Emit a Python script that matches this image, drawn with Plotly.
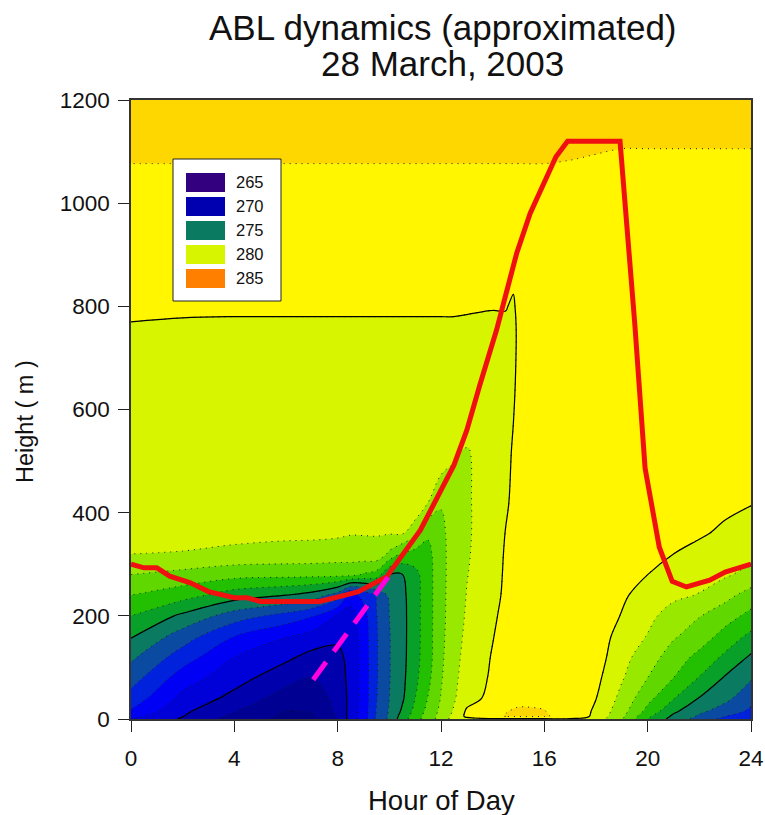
import plotly.graph_objects as go

# ---- data ----
hours = [0, 2, 4, 6, 7, 8, 8.5, 9, 9.5, 10, 10.5, 11, 11.5, 12, 12.5, 13, 14, 14.5, 14.8, 15, 16, 17, 18, 19, 20, 21, 22, 23, 24]
heights = [0, 5, 15, 40, 80, 120, 160, 200, 240, 280, 320, 360, 420, 520, 650, 760, 800, 830, 1050, 1090, 1110, 1200]

# potential temperature profile at each hour (one inner list per entry of `hours`)
temperature_by_hour = [
    [270.9, 271.3, 271.9, 272.6, 273.45, 274.2, 275.07, 276, 277, 278, 279, 279.09, 279.2, 279.44, 279.73, 279.98, 280.06, 280.12, 280.9, 281.05, 281.15, 281.6],
    [269.9, 270.02, 270.2, 270.7, 271.5, 272.5, 273.5, 274.8, 276.4, 277.7, 278.95, 279.3, 279.35, 279.5, 279.73, 279.96, 280.05, 280.15, 280.9, 281.05, 281.15, 281.6],
    [268.55, 268.7, 269.05, 269.7, 270.4, 271, 272, 273.5, 275.5, 277.35, 278.75, 279.3, 279.35, 279.5, 279.75, 279.95, 280.05, 280.15, 280.9, 281.05, 281.15, 281.6],
    [267.7, 267.8, 267.95, 268.5, 269.4, 270.2, 271.05, 272.65, 275, 277.3, 278.65, 279.2, 279.28, 279.5, 279.75, 279.95, 280.05, 280.15, 280.9, 281.05, 281.15, 281.6],
    [267.75, 267.85, 268.05, 268.4, 269, 269.7, 270.6, 272.1, 274.6, 277.3, 278.6, 279.2, 279.28, 279.5, 279.75, 279.95, 280.05, 280.15, 280.9, 281.05, 281.15, 281.6],
    [269.05, 269.1, 269.2, 269.3, 269.5, 269.75, 270.2, 270.85, 273.5, 277.3, 278.5, 279.15, 279.22, 279.5, 279.75, 279.95, 280.05, 280.15, 280.9, 281.05, 281.15, 281.6],
    [270.4, 270.4, 270.35, 270.3, 270.3, 270.3, 270.35, 270.5, 271.6, 277.3, 278.5, 279.05, 279.2, 279.5, 279.75, 279.95, 280.05, 280.15, 280.9, 281.05, 281.15, 281.6],
    [271.5, 271.45, 271.45, 271.4, 271.4, 271.4, 271.45, 271.6, 272.3, 276.9, 278.6, 279.05, 279.2, 279.5, 279.75, 279.95, 280.05, 280.15, 280.9, 281.05, 281.15, 281.6],
    [273.2, 273.1, 273.05, 272.95, 272.9, 272.9, 272.9, 272.95, 273.1, 276.6, 278.7, 279.05, 279.25, 279.55, 279.76, 279.95, 280.05, 280.15, 280.9, 281.05, 281.15, 281.6],
    [274.2, 274.15, 274.1, 274, 273.95, 273.95, 273.95, 274, 274.2, 274.95, 277.8, 279.05, 279.3, 279.6, 279.78, 279.95, 280.05, 280.15, 280.9, 281.05, 281.15, 281.6],
    [275.5, 275.4, 275.15, 274.85, 274.75, 274.7, 274.7, 274.7, 274.75, 274.97, 276.9, 279.1, 279.5, 279.8, 279.85, 279.95, 280.05, 280.15, 280.9, 281.05, 281.15, 281.6],
    [276.6, 276.5, 276.3, 276, 275.75, 275.65, 275.6, 275.6, 275.6, 275.7, 276.6, 278.3, 279.9, 279.9, 279.88, 279.95, 280.05, 280.15, 280.9, 281.05, 281.15, 281.6],
    [277.5, 277.45, 277.3, 277.05, 276.75, 276.6, 276.6, 276.6, 276.6, 276.6, 276.7, 277.15, 279, 279.85, 279.85, 279.95, 280.05, 280.15, 280.9, 281.05, 281.15, 281.6],
    [278.4, 278.35, 278.25, 278.05, 277.9, 277.8, 277.75, 277.7, 277.7, 277.7, 277.7, 277.75, 278.08, 279.8, 279.85, 279.95, 280.05, 280.15, 280.9, 281.05, 281.15, 281.6],
    [279.4, 279.3, 279.1, 278.9, 278.8, 278.7, 278.6, 278.55, 278.5, 278.45, 278.45, 278.45, 278.7, 279.09, 279.73, 279.95, 280.05, 280.15, 280.9, 281.05, 281.15, 281.6],
    [279.7, 280.2, 280.15, 279.6, 279.4, 279.3, 279.2, 279.1, 279.03, 278.97, 278.92, 278.9, 278.9, 278.93, 279.7, 279.94, 280.04, 280.14, 280.9, 281.05, 281.15, 281.6],
    [279.85, 280.9, 280.9, 280.3, 280.15, 280.07, 279.96, 279.85, 279.65, 279.55, 279.5, 279.45, 279.45, 279.5, 279.65, 279.92, 280.02, 280.12, 280.9, 281.05, 281.15, 281.6],
    [279.85, 281.02, 280.98, 280.8, 280.6, 280.45, 280.35, 280.25, 280.2, 280.15, 280.1, 280.03, 279.85, 279.7, 279.75, 279.9, 280.03, 280.15, 280.9, 281.05, 281.15, 281.6],
    [279.85, 281.05, 281.03, 280.85, 280.75, 280.65, 280.6, 280.5, 280.45, 280.4, 280.3, 280.25, 280.2, 280.1, 279.85, 279.82, 279.93, 280.02, 280.9, 281.05, 281.15, 281.6],
    [279.85, 281.08, 281.05, 280.9, 280.85, 280.8, 280.75, 280.7, 280.65, 280.6, 280.55, 280.5, 280.45, 280.4, 280.25, 280.15, 280.15, 280.2, 280.9, 281.05, 281.15, 281.6],
    [279.85, 281.04, 281.01, 280.93, 280.9, 280.9, 280.88, 280.85, 280.82, 280.8, 280.78, 280.76, 280.74, 280.72, 280.7, 280.65, 280.65, 280.65, 280.9, 281.05, 281.15, 281.6],
    [279.85, 280.85, 280.85, 280.85, 280.85, 280.85, 280.85, 280.85, 280.85, 280.85, 280.85, 280.82, 280.8, 280.8, 280.8, 280.75, 280.75, 280.75, 280.85, 281.03, 281.15, 281.6],
    [279.5, 279.7, 279.8, 280.02, 280.25, 280.45, 280.55, 280.6, 280.7, 280.72, 280.75, 280.75, 280.75, 280.75, 280.75, 280.72, 280.72, 280.72, 280.8, 280.98, 281.06, 281.55],
    [278.1, 278.2, 278.4, 278.7, 279.1, 279.35, 279.6, 279.95, 280.15, 280.3, 280.4, 280.45, 280.5, 280.55, 280.6, 280.6, 280.6, 280.6, 280.75, 280.93, 281.02, 281.5],
    [276, 276.2, 276.7, 277.3, 278, 278.45, 278.95, 279.25, 279.6, 280, 280.2, 280.3, 280.45, 280.5, 280.55, 280.55, 280.55, 280.55, 280.75, 280.93, 281.02, 281.5],
    [274.6, 274.8, 275.2, 276.05, 277, 277.55, 278.1, 278.6, 279.2, 279.6, 280, 280.2, 280.4, 280.5, 280.55, 280.55, 280.55, 280.55, 280.75, 280.93, 281.02, 281.5],
    [273.6, 273.85, 274.2, 274.95, 275.95, 276.7, 277.55, 278.05, 278.95, 279.35, 279.75, 280.1, 280.3, 280.4, 280.5, 280.52, 280.52, 280.55, 280.75, 280.93, 281.02, 281.5],
    [272.7, 273, 273.55, 274.25, 274.9, 275.8, 276.6, 277.45, 278.3, 279.13, 279.5, 279.85, 280.2, 280.4, 280.5, 280.52, 280.52, 280.55, 280.75, 280.93, 281.02, 281.5],
    [272.1, 272.35, 272.8, 273.35, 274.1, 274.85, 275.75, 276.7, 277.6, 278.7, 279.25, 279.6, 280.05, 280.3, 280.45, 280.55, 280.55, 280.6, 280.75, 280.93, 281.02, 281.5],
]

abl_hours = [0, 0.5, 1, 1.5, 2.3, 3, 4, 4.5, 5, 7.3, 8.3, 8.8, 9.9, 10.5, 11.2, 12.5, 13, 13.5, 14.15, 14.93, 15.45, 16.45, 16.9, 18.93, 19.5, 19.9, 20.45, 20.95, 21.5, 22.4, 23, 24]
abl_height = [300, 293, 293, 277, 264, 247, 235, 235, 228, 228, 240, 247, 276, 318, 366, 492, 560, 647, 754, 903, 980, 1090, 1120, 1120, 767, 486, 333, 267, 256, 269, 285, 300]

growth_hours = [7.05, 9.95]
growth_height = [76, 275]

legend_labels = ["265", "270", "275", "280", "285"]
legend_colors = ["#330080", "#0000b0", "#0a7a60", "#d8f500", "#ff8000"]

band_colors = ["#000082", "#000092", "#0000ac", "#0000d8", "#0000f5", "#0022dc", "#0a4aa0", "#0a7a60",
               "#08a028", "#22c000", "#60d800", "#98e800", "#d8f500", "#fff600", "#ffd700"]
band_floor = 267
band_top = 282

# ---- layout constants (pixels in the window) ----
W, H = 765, 815
L, R, T, B = 131, 751, 100, 719
FONT = "Liberation Sans"


def fx(px):
    return (px - L) / (R - L)


def fy(py):
    return (B - py) / (B - T)


temperature = [list(row) for row in zip(*temperature_by_hour)]

n = len(band_colors)
scale = []
for i, c in enumerate(band_colors):
    scale.append([i / n, c])
    scale.append([(i + 1) / n, c])

fig = go.Figure()
fig.add_trace(go.Contour(
    x=hours, y=heights, z=temperature,
    zmin=band_floor, zmax=band_top, zauto=False,
    colorscale=scale, showscale=False,
    autocontour=False,
    contours=dict(start=268, end=281, size=1, coloring="fill", showlines=True),
    line=dict(color="#1a1a1a", width=1, dash="1px,5px", smoothing=1),
    hoverinfo="skip",
))
fig.add_trace(go.Contour(
    x=hours, y=heights, z=temperature,
    showscale=False, autocontour=False,
    contours=dict(start=270, end=280, size=5, coloring="none", showlines=True),
    line=dict(color="#000000", width=1.2, smoothing=1),
    hoverinfo="skip",
))
fig.add_trace(go.Scatter(
    x=abl_hours, y=abl_height, mode="lines",
    line=dict(color="#f01010", width=5), hoverinfo="skip", showlegend=False,
))
fig.add_trace(go.Scatter(
    x=growth_hours, y=growth_height, mode="lines",
    line=dict(color="#ff00e0", width=5, dash="22px,13px"), hoverinfo="skip", showlegend=False,
))

shapes = [dict(type="rect", xref="paper", yref="paper", layer="above",
               x0=fx(173), x1=fx(281), y0=fy(301), y1=fy(159),
               fillcolor="white", line=dict(color="#222222", width=1))]
annotations = []
for i, (lab, col) in enumerate(zip(legend_labels, legend_colors)):
    top = 173 + i * 24
    shapes.append(dict(type="rect", xref="paper", yref="paper", layer="above",
                       x0=fx(186), x1=fx(225), y0=fy(top + 19), y1=fy(top),
                       fillcolor=col, line=dict(width=0)))
    annotations.append(dict(xref="paper", yref="paper", x=fx(234), y=fy(top + 9),
                            xanchor="left", yanchor="middle", showarrow=False, text=lab,
                            font=dict(family=FONT, size=16.5, color="#111111")))

annotations.append(dict(xref="paper", yref="paper", x=fx(443), y=fy(27), xanchor="center", yanchor="middle",
                        showarrow=False, text="ABL dynamics (approximated)",
                        font=dict(family=FONT, size=35, color="#111111")))
annotations.append(dict(xref="paper", yref="paper", x=fx(443), y=fy(64), xanchor="center", yanchor="middle",
                        showarrow=False, text="28 March, 2003",
                        font=dict(family=FONT, size=35, color="#111111")))
annotations.append(dict(xref="paper", yref="paper", x=fx(25), y=fy(422), xanchor="center", yanchor="middle",
                        showarrow=False, text="Height ( m )", textangle=-90,
                        font=dict(family=FONT, size=23.5, color="#111111")))
annotations.append(dict(xref="paper", yref="paper", x=fx(441), y=fy(800), xanchor="center", yanchor="middle",
                        showarrow=False, text="Hour of Day",
                        font=dict(family=FONT, size=27.5, color="#111111")))

axis_style = dict(showgrid=False, zeroline=False, showline=True, mirror=True, linecolor="#333333", linewidth=1.5,
                  ticks="outside", ticklen=11, tickwidth=1, tickcolor="#222222", automargin=False,
                  tickfont=dict(family=FONT, size=22.5, color="#111111"))
fig.update_layout(
    width=W, height=H, autosize=False,
    margin=dict(l=L, r=W - R, t=T, b=H - B, pad=0),
    paper_bgcolor="white", plot_bgcolor="white",
    showlegend=False,
    shapes=shapes, annotations=annotations,
    xaxis=dict(range=[0, 24], tickvals=[0, 4, 8, 12, 16, 20, 24], ticklabelstandoff=7, **axis_style),
    yaxis=dict(range=[0, 1200], tickvals=[0, 200, 400, 600, 800, 1000, 1200], ticklabelstandoff=4, **axis_style),
)
fig.write_html("out.html", config={"displayModeBar": False},
               post_script="document.body.style.margin='0';document.documentElement.style.overflow='hidden';")
